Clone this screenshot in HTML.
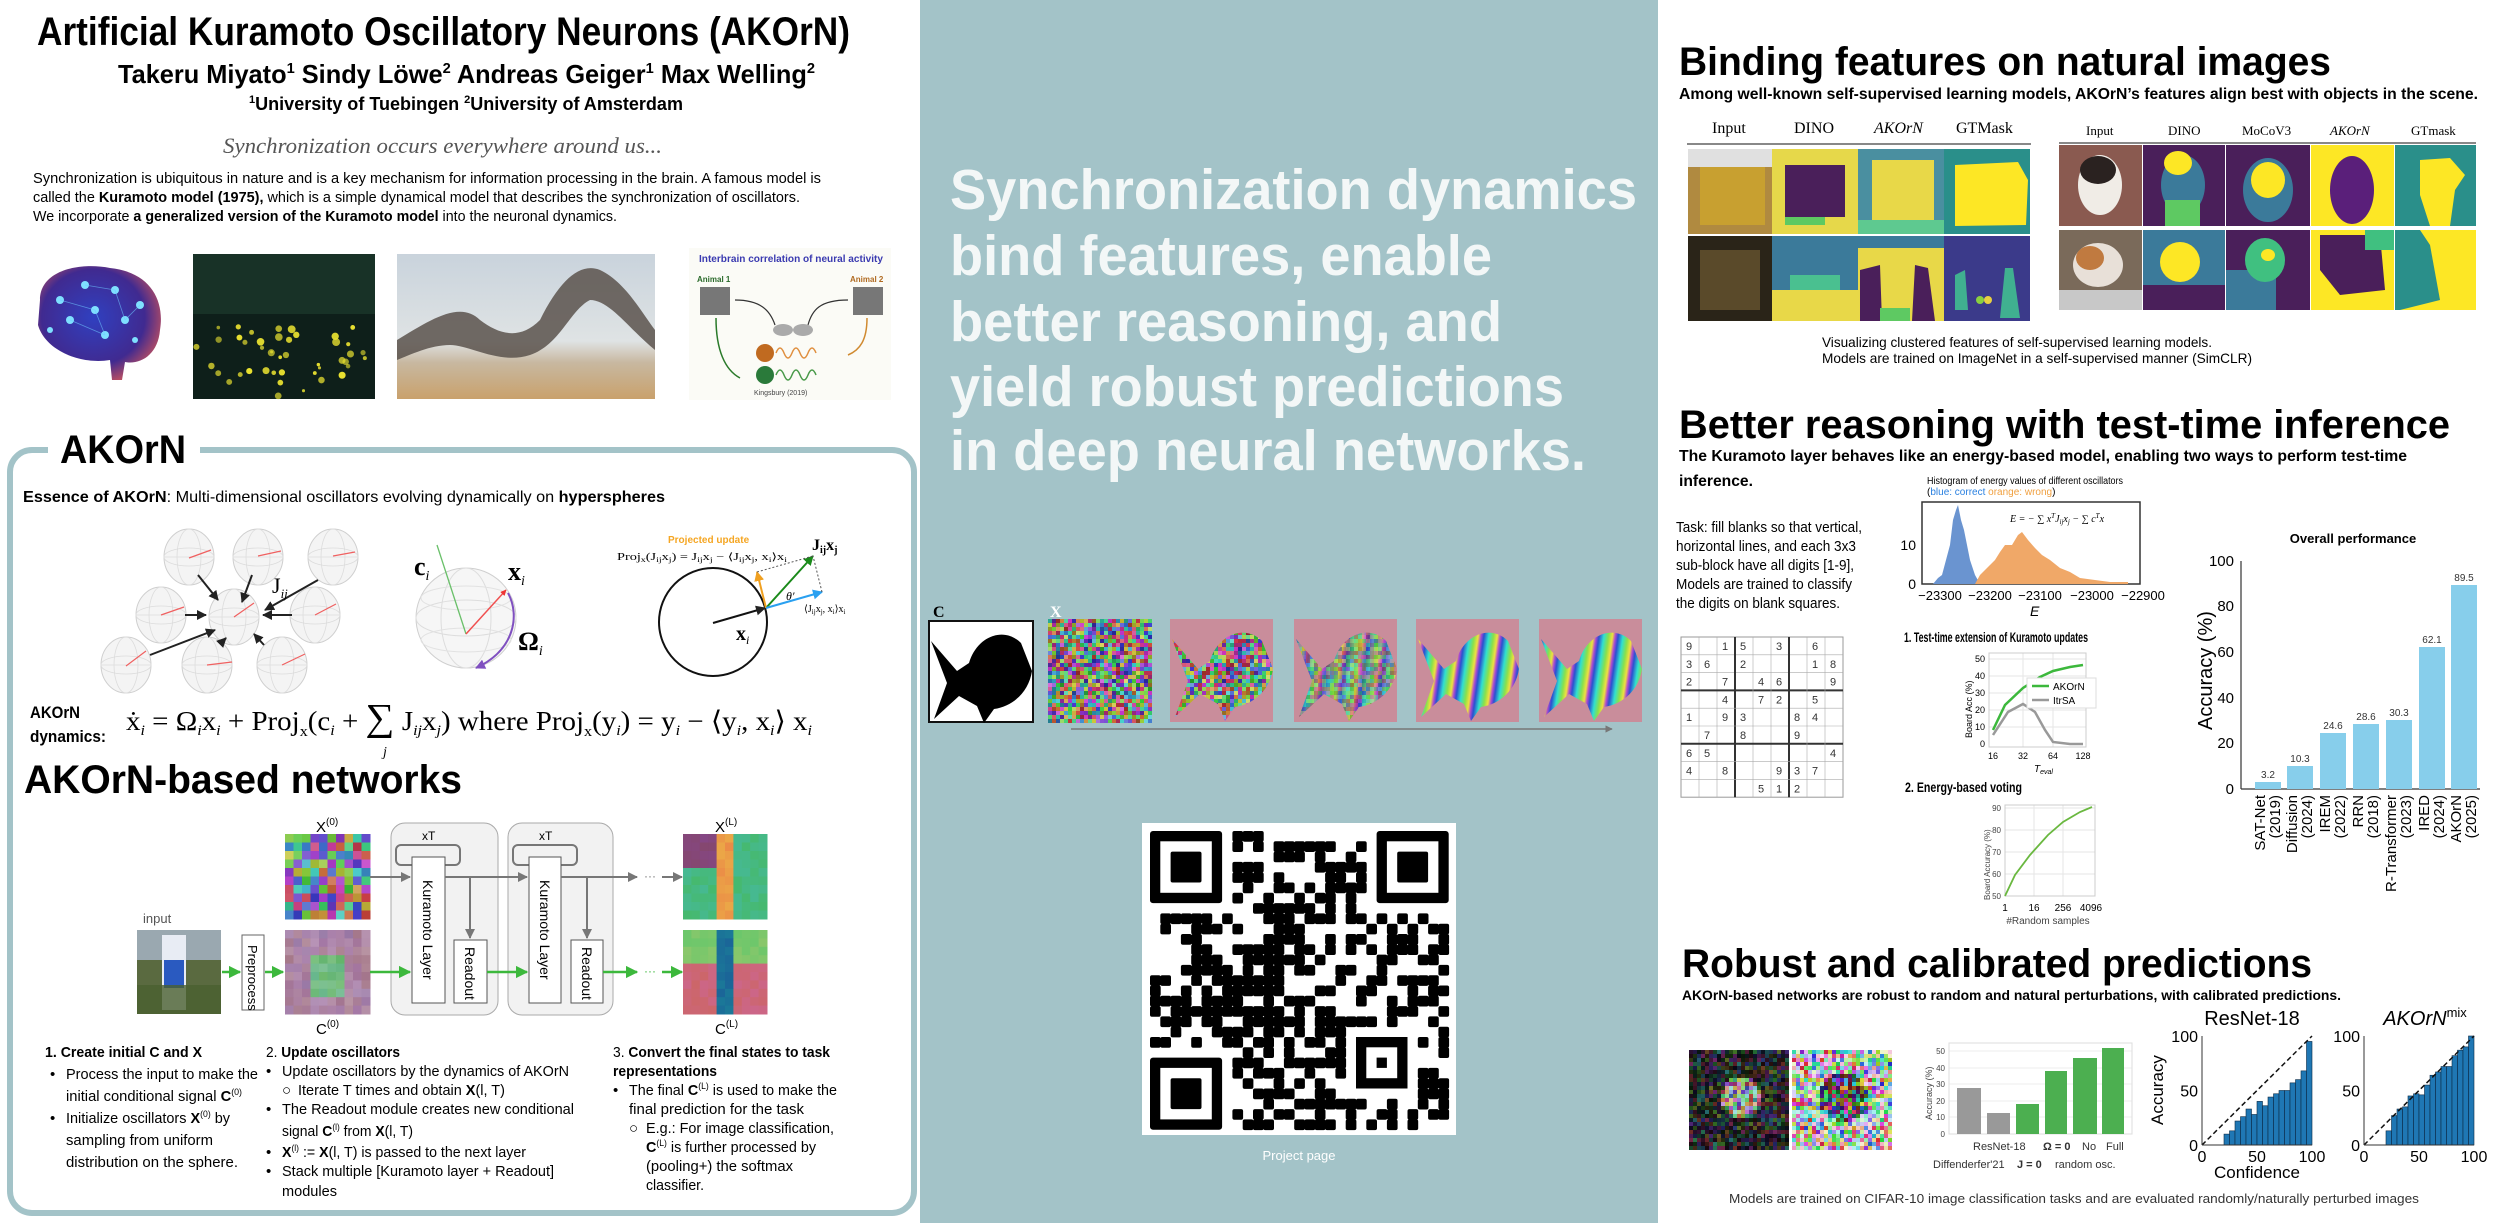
<!DOCTYPE html>
<html><head><meta charset="utf-8">
<style>
html,body{margin:0;padding:0;background:#fff;}
svg{display:block;}
text{font-family:"Liberation Sans",sans-serif;}
.s{font-family:"Liberation Serif",serif;}
</style></head>
<body>
<svg id="P" width="2500" height="1223" viewBox="0 0 2500 1223" xmlns="http://www.w3.org/2000/svg">
<defs>
<clipPath id="fc2"><path transform="translate(1170,619)" d="M2,20 L28,50 L40,42 C48,15 75,5 92,22 L103,50 C100,70 85,85 65,88 L55,102 L48,85 L30,75 L5,98 L18,62 Z"/></clipPath>
<clipPath id="fc3"><path transform="translate(1294,619)" d="M2,20 L28,50 L40,42 C48,15 75,5 92,22 L103,50 C100,70 85,85 65,88 L55,102 L48,85 L30,75 L5,98 L18,62 Z"/></clipPath>
<clipPath id="fc4"><path transform="translate(1416,619)" d="M2,20 L28,50 L40,42 C48,15 75,5 92,22 L103,50 C100,70 85,85 65,88 L55,102 L48,85 L30,75 L5,98 L18,62 Z"/></clipPath>
<clipPath id="fc5"><path transform="translate(1539,619)" d="M2,20 L28,50 L40,42 C48,15 75,5 92,22 L103,50 C100,70 85,85 65,88 L55,102 L48,85 L30,75 L5,98 L18,62 Z"/></clipPath>
<linearGradient id="stripe" x1="0" x2="1" y1="0" y2="0">
<stop offset="0" stop-color="#2a4fd0"/><stop offset="0.25" stop-color="#30e0d0"/><stop offset="0.5" stop-color="#8ae04a"/><stop offset="0.7" stop-color="#f0e040"/><stop offset="0.85" stop-color="#b04ad0"/><stop offset="1" stop-color="#2a4fd0"/>
</linearGradient>
<pattern id="stp" width="19" height="40" patternUnits="userSpaceOnUse" patternTransform="rotate(8)"><rect width="19" height="40" fill="url(#stripe)"/></pattern>
<linearGradient id="sky" x1="0" x2="0" y1="0" y2="1"><stop offset="0" stop-color="#c9d3dc"/><stop offset="0.6" stop-color="#dfe3e4"/><stop offset="0.75" stop-color="#c8b8a0"/><stop offset="1" stop-color="#c9a16c"/></linearGradient>
<radialGradient id="brain" cx="0.45" cy="0.45" r="0.6"><stop offset="0" stop-color="#3040c0"/><stop offset="0.7" stop-color="#402a90"/><stop offset="1" stop-color="#c05060"/></radialGradient>
<marker id="ah" viewBox="0 0 10 10" refX="9" refY="5" markerWidth="5" markerHeight="5" orient="auto"><path d="M0,0 L10,5 L0,10 z" fill="#222"/></marker>
<marker id="ahg" viewBox="0 0 10 10" refX="9" refY="5" markerWidth="5" markerHeight="5" orient="auto"><path d="M0,0 L10,5 L0,10 z" fill="#3cb83c"/></marker>
<marker id="ahy" viewBox="0 0 10 10" refX="9" refY="5" markerWidth="5" markerHeight="5" orient="auto"><path d="M0,0 L10,5 L0,10 z" fill="#777"/></marker>
<marker id="ahr" viewBox="0 0 10 10" refX="9" refY="5" markerWidth="4" markerHeight="4" orient="auto"><path d="M0,0 L10,5 L0,10 z" fill="#e33"/></marker>
<marker id="ahgr" viewBox="0 0 10 10" refX="9" refY="5" markerWidth="5" markerHeight="5" orient="auto"><path d="M0,0 L10,5 L0,10 z" fill="#1a8a1a"/></marker>
<marker id="aho" viewBox="0 0 10 10" refX="9" refY="5" markerWidth="5" markerHeight="5" orient="auto"><path d="M0,0 L10,5 L0,10 z" fill="#f0a020"/></marker>
<marker id="ahb" viewBox="0 0 10 10" refX="9" refY="5" markerWidth="5" markerHeight="5" orient="auto"><path d="M0,0 L10,5 L0,10 z" fill="#2aa0f0"/></marker>
<marker id="ahp" viewBox="0 0 10 10" refX="9" refY="5" markerWidth="5" markerHeight="5" orient="auto"><path d="M0,0 L10,5 L0,10 z" fill="#8050c0"/></marker>
<g id="sph">
<ellipse cx="0" cy="0" rx="25" ry="28" fill="#f4f4f4" stroke="#cfcfcf" stroke-width="1"/>
<ellipse cx="0" cy="0" rx="12" ry="28" fill="none" stroke="#dcdcdc" stroke-width="0.8"/>
<ellipse cx="0" cy="0" rx="25" ry="9" fill="none" stroke="#dcdcdc" stroke-width="0.8"/>
<line x1="-25" y1="0" x2="25" y2="0" stroke="#dcdcdc" stroke-width="0.8"/>
</g>
</defs>

<!-- backgrounds -->
<rect x="0" y="0" width="2500" height="1223" fill="#fff"/>
<rect x="920" y="0" width="738" height="1223" fill="#a3c3c8"/>

<!-- ===== LEFT PANEL ===== -->
<text x="37" y="45" font-size="40" font-weight="bold" textLength="813" lengthAdjust="spacingAndGlyphs">Artificial Kuramoto Oscillatory Neurons (AKOrN)</text>
<text x="118" y="83" font-size="26" font-weight="bold" textLength="697" lengthAdjust="spacingAndGlyphs">Takeru Miyato<tspan font-size="15" dy="-10">1</tspan><tspan dy="10">   Sindy Löwe</tspan><tspan font-size="15" dy="-10">2</tspan><tspan dy="10">   Andreas Geiger</tspan><tspan font-size="15" dy="-10">1</tspan><tspan dy="10">   Max Welling</tspan><tspan font-size="15" dy="-10">2</tspan></text>
<text x="249" y="110" font-size="18" font-weight="bold" textLength="434" lengthAdjust="spacingAndGlyphs"><tspan font-size="11" dy="-7">1</tspan><tspan dy="7">University of Tuebingen  </tspan><tspan font-size="11" dy="-7">2</tspan><tspan dy="7">University of Amsterdam</tspan></text>
<text x="223" y="153" font-size="22" font-style="italic" fill="#555" class="s" textLength="439" lengthAdjust="spacingAndGlyphs">Synchronization occurs everywhere around us...</text>
<text x="33" y="183" font-size="15" textLength="788" lengthAdjust="spacingAndGlyphs">Synchronization is ubiquitous in nature and is a key mechanism for information processing in the brain.  A famous model is</text>
<text x="33" y="202" font-size="15" textLength="767" lengthAdjust="spacingAndGlyphs">called the <tspan font-weight="bold">Kuramoto model (1975),</tspan> which is a simple dynamical model that describes the synchronization of oscillators.</text>
<text x="33" y="221" font-size="15" textLength="584" lengthAdjust="spacingAndGlyphs">We incorporate <tspan font-weight="bold">a generalized version of the Kuramoto model</tspan> into the neuronal dynamics.</text>

<!-- brain -->
<path d="M40,300 C40,270 80,262 110,268 C150,272 165,300 160,330 C158,355 140,365 125,362 L122,380 L112,380 L110,360 C80,365 45,350 38,325 Z" fill="url(#brain)"/>
<g fill="#7fe0ff"><circle cx="60" cy="300" r="4"/><circle cx="85" cy="285" r="4"/><circle cx="115" cy="290" r="4"/><circle cx="140" cy="305" r="4"/><circle cx="70" cy="320" r="4"/><circle cx="95" cy="310" r="4"/><circle cx="125" cy="320" r="4"/><circle cx="105" cy="335" r="4"/><circle cx="50" cy="330" r="3"/><circle cx="135" cy="340" r="3"/></g>
<g stroke="#6fc8ff" stroke-width="0.8" opacity="0.6"><line x1="60" y1="300" x2="95" y2="310"/><line x1="85" y1="285" x2="115" y2="290"/><line x1="115" y1="290" x2="125" y2="320"/><line x1="95" y1="310" x2="105" y2="335"/><line x1="70" y1="320" x2="105" y2="335"/><line x1="140" y1="305" x2="125" y2="320"/></g>
<!-- fireflies -->
<rect x="193" y="254" width="182" height="145" fill="#0e1f1a"/>
<rect x="193" y="254" width="182" height="60" fill="#1c3a2e" opacity="0.7"/>
<g id="ff" fill="#e8e030"></g>
<!-- birds -->
<rect x="397" y="254" width="258" height="145" fill="url(#sky)"/>
<path d="M397,340 C430,320 460,300 480,320 C500,335 520,340 540,320 C560,280 580,262 600,270 C625,282 640,310 655,330 L655,350 C630,330 610,300 590,300 C570,310 560,345 530,355 C500,365 470,345 450,345 C430,345 410,355 397,360 Z" fill="#5a524c" opacity="0.85"/>
<!-- interbrain -->
<rect x="689" y="248" width="202" height="152" fill="#fbfbf6"/>
<text x="699" y="262" font-size="10" font-weight="bold" fill="#3a3ab0" textLength="184" lengthAdjust="spacingAndGlyphs">Interbrain correlation of neural activity</text>
<text x="697" y="282" font-size="8" font-weight="bold" fill="#2a6a2a">Animal 1</text>
<text x="850" y="282" font-size="8" font-weight="bold" fill="#b06a20">Animal 2</text>
<rect x="700" y="287" width="30" height="28" fill="#777"/><rect x="853" y="287" width="30" height="28" fill="#777"/>
<path d="M735,300 C760,300 770,310 775,325" stroke="#333" fill="none" stroke-width="1.2"/><path d="M848,300 C820,300 812,310 808,325" stroke="#333" fill="none" stroke-width="1.2"/>
<ellipse cx="783" cy="330" rx="10" ry="6" fill="#aaa"/><ellipse cx="803" cy="330" rx="10" ry="6" fill="#aaa"/>
<path d="M716,318 C716,350 725,370 740,378" stroke="#2a7a2a" fill="none" stroke-width="1.5"/><path d="M867,318 C867,340 860,350 848,355" stroke="#d08a30" fill="none" stroke-width="1.5"/>
<circle cx="765" cy="353" r="9" fill="#c06a20"/><path d="M776,353 q4,-10 8,0 t8,0 t8,0 t8,0 t8,0" stroke="#e09040" fill="none" stroke-width="1.5"/>
<circle cx="765" cy="375" r="9" fill="#2a7a3a"/><path d="M776,375 q4,-10 8,0 t8,0 t8,0 t8,0 t8,0" stroke="#4a9a4a" fill="none" stroke-width="1.5"/>
<text x="754" y="395" font-size="7" fill="#444">Kingsbury (2019)</text>

<!-- AKOrN box -->
<rect x="10" y="450" width="904" height="763" rx="22" ry="22" fill="none" stroke="#a3c3c8" stroke-width="6"/>
<rect x="48" y="438" width="152" height="26" fill="#fff"/>
<text x="60" y="463" font-size="40" font-weight="bold" textLength="126" lengthAdjust="spacingAndGlyphs">AKOrN</text>
<text x="23" y="502" font-size="16" textLength="642" lengthAdjust="spacingAndGlyphs"><tspan font-weight="bold">Essence of AKOrN</tspan>: Multi-dimensional oscillators evolving dynamically on <tspan font-weight="bold">hyperspheres</tspan></text>

<!-- sphere cluster -->
<g>
<use href="#sph" x="189" y="557"/><use href="#sph" x="258" y="557"/><use href="#sph" x="333" y="557"/>
<use href="#sph" x="161" y="615"/><use href="#sph" x="234" y="617"/><use href="#sph" x="315" y="615"/>
<use href="#sph" x="126" y="665"/><use href="#sph" x="207" y="665"/><use href="#sph" x="282" y="665"/>
<g stroke="#f06060" stroke-width="1.2"><line x1="189" y1="558" x2="211" y2="550"/><line x1="258" y1="556" x2="281" y2="551"/><line x1="333" y1="556" x2="355" y2="552"/><line x1="161" y1="615" x2="184" y2="607"/><line x1="234" y1="617" x2="254" y2="603"/><line x1="315" y1="615" x2="336" y2="604"/><line x1="126" y1="666" x2="146" y2="651"/><line x1="207" y1="665" x2="232" y2="662"/><line x1="282" y1="665" x2="305" y2="654"/></g>
<g stroke="#222" stroke-width="2" fill="none" marker-end="url(#ah)"><line x1="198" y1="575" x2="218" y2="600"/><line x1="252" y1="575" x2="242" y2="602"/><line x1="318" y1="580" x2="265" y2="610"/><line x1="185" y1="615" x2="206" y2="615"/><line x1="292" y1="615" x2="263" y2="615"/><line x1="150" y1="655" x2="215" y2="630"/><line x1="264" y1="645" x2="254" y2="634"/><line x1="222" y1="642" x2="226" y2="638"/></g>
<text x="272" y="593" font-size="22" class="s">J<tspan font-size="13" dy="5" font-style="italic">ij</tspan></text>
</g>
<!-- single sphere -->
<g>
<ellipse cx="466" cy="618" rx="50" ry="50" fill="#f6f6f6" stroke="#cfcfcf"/>
<ellipse cx="466" cy="618" rx="25" ry="50" fill="none" stroke="#ddd"/><ellipse cx="466" cy="618" rx="50" ry="18" fill="none" stroke="#ddd"/><ellipse cx="466" cy="598" rx="45" ry="12" fill="none" stroke="#e2e2e2"/><ellipse cx="466" cy="640" rx="45" ry="12" fill="none" stroke="#e2e2e2"/>
<line x1="466" y1="634" x2="437" y2="545" stroke="#6ac06a" stroke-width="1.3"/>
<line x1="466" y1="634" x2="506" y2="590" stroke="#f05050" stroke-width="1.5" marker-end="url(#ahr)"/>
<path d="M508,593 C520,615 515,650 476,668" stroke="#8050c0" fill="none" stroke-width="2" marker-end="url(#ahp)"/>
<text x="414" y="575" font-size="26" class="s" font-weight="bold">c<tspan font-size="14" dy="5" font-style="italic" font-weight="normal">i</tspan></text>
<text x="508" y="580" font-size="26" class="s" font-weight="bold">x<tspan font-size="14" dy="5" font-style="italic" font-weight="normal">i</tspan></text>
<text x="518" y="650" font-size="26" class="s" font-weight="bold">Ω<tspan font-size="14" dy="5" font-style="italic" font-weight="normal">i</tspan></text>
</g>
<!-- projection diagram -->
<g>
<circle cx="713" cy="622" r="54" fill="none" stroke="#111" stroke-width="2"/>
<line x1="713" y1="623" x2="765" y2="608" stroke="#111" stroke-width="2" marker-end="url(#ah)"/>
<line x1="766" y1="608" x2="813" y2="556" stroke="#1a8a1a" stroke-width="2" marker-end="url(#ahgr)"/>
<line x1="766" y1="608" x2="757" y2="572" stroke="#f0a020" stroke-width="2" marker-end="url(#aho)"/>
<line x1="766" y1="608" x2="822" y2="592" stroke="#2aa0f0" stroke-width="2" marker-end="url(#ahb)"/>
<line x1="757" y1="572" x2="813" y2="556" stroke="#555" stroke-dasharray="2,2"/><line x1="822" y1="592" x2="813" y2="556" stroke="#555" stroke-dasharray="2,2"/>
<text x="668" y="543" font-size="10" font-weight="bold" fill="#f5a623">Projected update</text>
<text x="617" y="560" font-size="10" class="s" textLength="170" lengthAdjust="spacingAndGlyphs">Proj<tspan font-size="7" dy="2">x</tspan><tspan dy="-2">(J</tspan><tspan font-size="7" dy="2">ij</tspan><tspan dy="-2">x</tspan><tspan font-size="7" dy="2">j</tspan><tspan dy="-2">) = J</tspan><tspan font-size="7" dy="2">ij</tspan><tspan dy="-2">x</tspan><tspan font-size="7" dy="2">j</tspan><tspan dy="-2"> − ⟨J</tspan><tspan font-size="7" dy="2">ij</tspan><tspan dy="-2">x</tspan><tspan font-size="7" dy="2">j</tspan><tspan dy="-2">, x</tspan><tspan font-size="7" dy="2">i</tspan><tspan dy="-2">⟩x</tspan><tspan font-size="7" dy="2">i</tspan></text>
<text x="812" y="550" font-size="16" class="s" font-weight="bold">J<tspan font-size="10" dy="3">ij</tspan><tspan dy="-3">x</tspan><tspan font-size="10" dy="3">j</tspan></text>
<text x="804" y="612" font-size="10" class="s">⟨J<tspan font-size="7" dy="2">ij</tspan><tspan dy="-2">x</tspan><tspan font-size="7" dy="2">j</tspan><tspan dy="-2">, x</tspan><tspan font-size="7" dy="2">i</tspan><tspan dy="-2">⟩x</tspan><tspan font-size="7" dy="2">i</tspan></text>
<text x="786" y="600" font-size="12" class="s" font-style="italic">θ′</text>
<text x="736" y="640" font-size="20" class="s" font-weight="bold">x<tspan font-size="12" dy="4" font-style="italic" font-weight="normal">i</tspan></text>
</g>
<!-- dynamics equation -->
<text x="30" y="718" font-size="17" font-weight="bold" textLength="50" lengthAdjust="spacingAndGlyphs">AKOrN</text>
<text x="30" y="742" font-size="17" font-weight="bold" textLength="76" lengthAdjust="spacingAndGlyphs">dynamics:</text>
<text x="126" y="730" font-size="27" class="s" textLength="686" lengthAdjust="spacingAndGlyphs">ẋ<tspan font-size="15" dy="5" font-style="italic">i</tspan><tspan dy="-5"> = Ω</tspan><tspan font-size="15" dy="5" font-style="italic">i</tspan><tspan dy="-5">x</tspan><tspan font-size="15" dy="5" font-style="italic">i</tspan><tspan dy="-5"> + Proj</tspan><tspan font-size="15" dy="6">x</tspan><tspan dy="-6">(c</tspan><tspan font-size="15" dy="5" font-style="italic">i</tspan><tspan dy="-5"> + </tspan><tspan font-size="38">∑</tspan><tspan> J</tspan><tspan font-size="15" dy="5" font-style="italic">ij</tspan><tspan dy="-5">x</tspan><tspan font-size="15" dy="5" font-style="italic">j</tspan><tspan dy="-5">) where Proj</tspan><tspan font-size="15" dy="6">x</tspan><tspan dy="-6">(y</tspan><tspan font-size="15" dy="5" font-style="italic">i</tspan><tspan dy="-5">) = y</tspan><tspan font-size="15" dy="5" font-style="italic">i</tspan><tspan dy="-5"> − ⟨y</tspan><tspan font-size="15" dy="5" font-style="italic">i</tspan><tspan dy="-5">, x</tspan><tspan font-size="15" dy="5" font-style="italic">i</tspan><tspan dy="-5">⟩ x</tspan><tspan font-size="15" dy="5" font-style="italic">i</tspan></text>
<text x="383" y="756" font-size="14" class="s" font-style="italic">j</text>

<text x="24" y="793" font-size="40" font-weight="bold" textLength="438" lengthAdjust="spacingAndGlyphs">AKOrN-based networks</text>

<!-- network diagram -->
<g id="netimgs"></g>
<text x="316" y="832" font-size="15">X<tspan font-size="10" dy="-7">(0)</tspan></text>
<text x="316" y="1034" font-size="15">C<tspan font-size="10" dy="-7">(0)</tspan></text>
<text x="715" y="832" font-size="15">X<tspan font-size="10" dy="-7">(L)</tspan></text>
<text x="715" y="1034" font-size="15">C<tspan font-size="10" dy="-7">(L)</tspan></text>
<text x="143" y="923" font-size="13" fill="#555">input</text>
<rect x="137" y="930" width="84" height="84" fill="#5a6a40"/>
<rect x="137" y="930" width="84" height="30" fill="#9aa8b0"/>
<rect x="162" y="935" width="24" height="75" fill="#e8ecf4"/><rect x="164" y="960" width="20" height="28" fill="#2a5ac0"/>
<rect x="137" y="985" width="84" height="29" fill="#4a6030" opacity="0.8"/>
<rect x="242" y="935" width="22" height="75" fill="#fff" stroke="#666"/>
<text transform="translate(248,945) rotate(90)" font-size="13">Preprocess</text>
<rect x="391" y="823" width="107" height="192" rx="14" fill="#f2f2f2" stroke="#aaa"/>
<rect x="508" y="823" width="105" height="192" rx="14" fill="#f2f2f2" stroke="#aaa"/>
<text x="422" y="840" font-size="12">xT</text><text x="539" y="840" font-size="12">xT</text>
<rect x="396" y="845" width="64" height="20" rx="5" fill="none" stroke="#777" stroke-width="2"/>
<rect x="513" y="845" width="64" height="20" rx="5" fill="none" stroke="#777" stroke-width="2"/>
<rect x="412" y="857" width="33" height="146" fill="#fff" stroke="#555"/>
<rect x="529" y="857" width="32" height="146" fill="#fff" stroke="#555"/>
<rect x="454" y="940" width="33" height="63" fill="#fff" stroke="#555"/>
<rect x="571" y="940" width="32" height="63" fill="#fff" stroke="#555"/>
<text transform="translate(423,880) rotate(90)" font-size="14">Kuramoto Layer</text>
<text transform="translate(540,880) rotate(90)" font-size="14">Kuramoto Layer</text>
<text transform="translate(465,947) rotate(90)" font-size="14">Readout</text>
<text transform="translate(582,947) rotate(90)" font-size="14">Readout</text>
<g stroke="#777" stroke-width="2" fill="none">
<line x1="370" y1="877" x2="410" y2="877" marker-end="url(#ahy)"/>
<line x1="445" y1="877" x2="527" y2="877" marker-end="url(#ahy)"/>
<line x1="561" y1="877" x2="637" y2="877" marker-end="url(#ahy)"/>
<line x1="662" y1="877" x2="682" y2="877" marker-end="url(#ahy)"/>
<line x1="470" y1="877" x2="470" y2="938" marker-end="url(#ahy)"/>
<line x1="587" y1="877" x2="587" y2="938" marker-end="url(#ahy)"/>
</g>
<text x="644" y="880" font-size="12" fill="#777">···</text>
<g stroke="#3cb83c" stroke-width="2.5" fill="none">
<line x1="222" y1="972" x2="240" y2="972" marker-end="url(#ahg)"/>
<line x1="265" y1="972" x2="283" y2="972" marker-end="url(#ahg)"/>
<line x1="370" y1="972" x2="410" y2="972" marker-end="url(#ahg)"/>
<line x1="487" y1="972" x2="527" y2="972" marker-end="url(#ahg)"/>
<line x1="603" y1="972" x2="637" y2="972" marker-end="url(#ahg)"/>
<line x1="662" y1="972" x2="682" y2="972" marker-end="url(#ahg)"/>
</g>
<text x="644" y="975" font-size="12" fill="#3cb83c">···</text>

<!-- bullets -->
<g font-size="15">
<text x="45" y="1057" font-weight="bold" textLength="157" lengthAdjust="spacingAndGlyphs">1.  Create initial C and X</text>
<text x="50" y="1079">•</text><text x="66" y="1079" textLength="192" lengthAdjust="spacingAndGlyphs">Process the input to make the</text>
<text x="66" y="1101" textLength="176" lengthAdjust="spacingAndGlyphs">initial conditional signal <tspan font-weight="bold">C</tspan><tspan font-size="9" dy="-6">(0)</tspan></text>
<text x="50" y="1123">•</text><text x="66" y="1123" textLength="164" lengthAdjust="spacingAndGlyphs">Initialize oscillators <tspan font-weight="bold">X</tspan><tspan font-size="9" dy="-6">(0)</tspan><tspan dy="6"> by</tspan></text>
<text x="66" y="1145" textLength="147" lengthAdjust="spacingAndGlyphs">sampling from uniform</text>
<text x="66" y="1167" textLength="172" lengthAdjust="spacingAndGlyphs">distribution on the sphere.</text>

<text x="266" y="1057" textLength="134" lengthAdjust="spacingAndGlyphs">2. <tspan font-weight="bold">Update oscillators</tspan></text>
<text x="266" y="1076">•</text><text x="282" y="1076" textLength="287" lengthAdjust="spacingAndGlyphs">Update oscillators by the dynamics of AKOrN</text>
<text x="282" y="1095">○</text><text x="298" y="1095" textLength="207" lengthAdjust="spacingAndGlyphs">Iterate T times and obtain <tspan font-weight="bold">X</tspan>(l, T)</text>
<text x="266" y="1114">•</text><text x="282" y="1114" textLength="292" lengthAdjust="spacingAndGlyphs">The Readout module creates new conditional</text>
<text x="282" y="1136" textLength="131" lengthAdjust="spacingAndGlyphs">signal <tspan font-weight="bold">C</tspan><tspan font-size="9" dy="-6">(l)</tspan><tspan dy="6"> from </tspan><tspan font-weight="bold">X</tspan>(l, T)</text>
<text x="266" y="1157">•</text><text x="282" y="1157" textLength="244" lengthAdjust="spacingAndGlyphs"><tspan font-weight="bold">X</tspan><tspan font-size="9" dy="-6">(l)</tspan><tspan dy="6"> := </tspan><tspan font-weight="bold">X</tspan>(l, T) is passed to the next layer</text>
<text x="266" y="1176">•</text><text x="282" y="1176" textLength="272" lengthAdjust="spacingAndGlyphs">Stack multiple [Kuramoto layer + Readout]</text>
<text x="282" y="1196" textLength="55" lengthAdjust="spacingAndGlyphs">modules</text>

<text x="613" y="1057" textLength="217" lengthAdjust="spacingAndGlyphs">3. <tspan font-weight="bold">Convert the final states to task</tspan></text>
<text x="613" y="1076" font-weight="bold" textLength="104" lengthAdjust="spacingAndGlyphs">representations</text>
<text x="613" y="1095">•</text><text x="629" y="1095" textLength="208" lengthAdjust="spacingAndGlyphs">The final <tspan font-weight="bold">C</tspan><tspan font-size="9" dy="-6">(L)</tspan><tspan dy="6"> is used to make the</tspan></text>
<text x="629" y="1114" textLength="175" lengthAdjust="spacingAndGlyphs">final prediction for the task</text>
<text x="629" y="1133">○</text><text x="646" y="1133" textLength="188" lengthAdjust="spacingAndGlyphs">E.g.:  For image classification,</text>
<text x="646" y="1152" textLength="170" lengthAdjust="spacingAndGlyphs"><tspan font-weight="bold">C</tspan><tspan font-size="9" dy="-6">(L)</tspan><tspan dy="6"> is further processed by</tspan></text>
<text x="646" y="1171" textLength="147" lengthAdjust="spacingAndGlyphs">(pooling+) the softmax</text>
<text x="646" y="1190" textLength="58" lengthAdjust="spacingAndGlyphs">classifier.</text>
</g>

<!-- ===== MIDDLE PANEL ===== -->
<g fill="#f3f7f7" font-weight="bold" font-size="57">
<text x="950" y="209" textLength="687" lengthAdjust="spacingAndGlyphs">Synchronization dynamics</text>
<text x="950" y="275" textLength="542" lengthAdjust="spacingAndGlyphs">bind features, enable</text>
<text x="950" y="341" textLength="552" lengthAdjust="spacingAndGlyphs">better reasoning, and</text>
<text x="950" y="406" textLength="614" lengthAdjust="spacingAndGlyphs">yield robust predictions</text>
<text x="950" y="470" textLength="636" lengthAdjust="spacingAndGlyphs">in deep neural networks.</text>
</g>
<text x="933" y="617" font-size="16" class="s" font-weight="bold">C</text>
<text x="1050" y="617" font-size="16" class="s" font-weight="bold" fill="#fff">X</text>
<rect x="929" y="621" width="104" height="101" fill="#fff" stroke="#111" stroke-width="2"/>
<path transform="translate(929,621)" d="M2,20 L28,50 L40,42 C48,15 75,5 92,22 L103,50 C100,70 85,85 65,88 L55,102 L48,85 L30,75 L5,98 L18,62 Z" fill="#000"/>
<g id="fish"></g>
<rect x="1416" y="619" width="103" height="103" fill="#c98d9b"/>
<rect x="1416" y="619" width="103" height="103" fill="url(#stp)" clip-path="url(#fc4)"/>
<rect x="1539" y="619" width="103" height="103" fill="#c98d9b"/>
<rect x="1539" y="619" width="103" height="103" fill="url(#stp)" clip-path="url(#fc5)"/>
<line x1="1071" y1="729" x2="1612" y2="729" stroke="#777" stroke-width="1.5" marker-end="url(#ahy)"/>
<rect x="1142" y="823" width="314" height="312" fill="#fff"/>
<g id="qr"></g>
<text x="1299" y="1160" font-size="13" fill="#fff" text-anchor="middle">Project page</text>

<!-- ===== RIGHT PANEL ===== -->
<text x="1679" y="75" font-size="40" font-weight="bold" textLength="652" lengthAdjust="spacingAndGlyphs">Binding features on natural images</text>
<text x="1679" y="99" font-size="16" font-weight="bold" textLength="799" lengthAdjust="spacingAndGlyphs">Among well-known self-supervised learning models, AKOrN’s features align best with objects in the scene.</text>
<g class="s" font-size="16">
<text x="1712" y="133" class="s">Input</text><text x="1794" y="133" class="s">DINO</text><text x="1874" y="133" class="s" font-style="italic">AKOrN</text><text x="1956" y="133" class="s">GTMask</text>
</g>
<line x1="1687" y1="144" x2="2031" y2="144" stroke="#888" stroke-width="2"/>
<g class="s" font-size="13">
<text x="2086" y="135" class="s">Input</text><text x="2168" y="135" class="s">DINO</text><text x="2242" y="135" class="s">MoCoV3</text><text x="2330" y="135" class="s" font-style="italic">AKOrN</text><text x="2411" y="135" class="s">GTmask</text>
</g>
<line x1="2059" y1="143" x2="2476" y2="143" stroke="#888" stroke-width="2"/>
<!-- left grid -->
<rect x="1688" y="149" width="84" height="85" fill="#b08a40"/><rect x="1700" y="160" width="65" height="65" fill="#c8a030"/><rect x="1688" y="149" width="84" height="18" fill="#e0e0e0"/>
<rect x="1772" y="149" width="86" height="85" fill="#e6d84a"/><rect x="1785" y="165" width="60" height="52" fill="#4a1f5a"/><rect x="1785" y="217" width="40" height="8" fill="#5ec962"/>
<rect x="1858" y="149" width="86" height="85" fill="#4a8fa0"/><rect x="1872" y="160" width="62" height="60" fill="#e8d848"/><rect x="1858" y="220" width="86" height="14" fill="#5ec990"/>
<rect x="1944" y="149" width="86" height="85" fill="#2a8f8a"/><path d="M1955,165 L2018,162 L2028,180 L2026,225 L1955,226 Z" fill="#fde725"/>
<rect x="1688" y="236" width="84" height="85" fill="#2a2418"/><rect x="1700" y="250" width="60" height="60" fill="#5a4a2a"/>
<rect x="1772" y="236" width="86" height="85" fill="#3b7a9a"/><rect x="1772" y="290" width="86" height="31" fill="#e8d848"/><rect x="1790" y="275" width="50" height="15" fill="#4ac090"/>
<rect x="1858" y="236" width="86" height="85" fill="#e8d848"/><rect x="1858" y="236" width="86" height="12" fill="#3b7a9a"/><path d="M1860,270 L1880,265 L1882,321 L1860,321 Z M1915,265 L1928,268 L1935,321 L1912,321 Z" fill="#4a1f5a"/><rect x="1880" y="308" width="30" height="13" fill="#5ec962"/>
<rect x="1944" y="236" width="86" height="85" fill="#3b3a8a"/><path d="M1955,275 L1965,270 L1968,310 L1955,310 Z M2005,268 L2013,268 L2020,318 L2000,318 Z" fill="#40b090"/><circle cx="1980" cy="300" r="4" fill="#8ad040"/><circle cx="1988" cy="300" r="4" fill="#e8d040"/>
<!-- right grid -->
<rect x="2059" y="145" width="83" height="81" fill="#8a5a50"/><ellipse cx="2100" cy="185" rx="22" ry="30" fill="#f0ece6"/><ellipse cx="2098" cy="170" rx="18" ry="14" fill="#2a2220"/>
<rect x="2143" y="145" width="82" height="81" fill="#4a1f5a"/><ellipse cx="2183" cy="185" rx="22" ry="30" fill="#3b7a9a"/><ellipse cx="2178" cy="163" rx="14" ry="12" fill="#fde725"/><rect x="2165" y="200" width="35" height="26" fill="#5ec962"/>
<rect x="2226" y="145" width="84" height="81" fill="#4a1f5a"/><ellipse cx="2268" cy="190" rx="25" ry="32" fill="#3b7a9a"/><ellipse cx="2268" cy="180" rx="17" ry="18" fill="#fde725"/>
<rect x="2311" y="145" width="83" height="81" fill="#fde725"/><ellipse cx="2352" cy="190" rx="22" ry="34" fill="#5a1f7a"/>
<rect x="2395" y="145" width="81" height="81" fill="#2a8f8a"/><path d="M2420,160 L2450,158 L2465,175 L2455,190 L2450,226 L2430,226 L2420,195 Z" fill="#fde725"/>
<rect x="2059" y="230" width="83" height="80" fill="#7a6a5a"/><ellipse cx="2098" cy="265" rx="25" ry="22" fill="#e8e0d8"/><ellipse cx="2090" cy="258" rx="14" ry="12" fill="#c07a40"/><rect x="2059" y="290" width="83" height="20" fill="#c8c8c8"/>
<rect x="2143" y="230" width="82" height="80" fill="#3b7a9a"/><rect x="2143" y="285" width="82" height="25" fill="#4a1f5a"/><ellipse cx="2180" cy="262" rx="20" ry="20" fill="#fde725"/>
<rect x="2226" y="230" width="84" height="80" fill="#4a1f5a"/><rect x="2226" y="270" width="50" height="40" fill="#3b7a9a"/><ellipse cx="2265" cy="260" rx="20" ry="22" fill="#40c080"/><ellipse cx="2268" cy="255" rx="7" ry="6" fill="#fde725"/>
<rect x="2311" y="230" width="83" height="80" fill="#fde725"/><path d="M2320,235 L2380,235 L2385,290 L2340,295 L2320,270 Z" fill="#4a1f5a"/><rect x="2365" y="230" width="29" height="20" fill="#40c080"/>
<rect x="2395" y="230" width="81" height="80" fill="#fde725"/><path d="M2395,230 L2420,230 L2430,245 L2440,300 L2400,310 L2395,310 Z" fill="#2a8f8a"/>
<text x="1822" y="347" font-size="14" textLength="390" lengthAdjust="spacingAndGlyphs">Visualizing clustered features of self-supervised learning models.</text>
<text x="1822" y="363" font-size="14" textLength="430" lengthAdjust="spacingAndGlyphs">Models are trained on ImageNet in a self-supervised manner (SimCLR)</text>

<text x="1679" y="438" font-size="40" font-weight="bold" textLength="771" lengthAdjust="spacingAndGlyphs">Better reasoning with test-time inference</text>
<text x="1679" y="461" font-size="16" font-weight="bold" textLength="728" lengthAdjust="spacingAndGlyphs">The Kuramoto layer behaves like an energy-based model, enabling two ways to perform test-time</text>
<text x="1679" y="486" font-size="16" font-weight="bold" textLength="74" lengthAdjust="spacingAndGlyphs">inference.</text>
<g font-size="15">
<text x="1676" y="532" textLength="186" lengthAdjust="spacingAndGlyphs">Task: fill blanks so that vertical,</text>
<text x="1676" y="551" textLength="180" lengthAdjust="spacingAndGlyphs">horizontal lines, and each 3x3</text>
<text x="1676" y="570" textLength="178" lengthAdjust="spacingAndGlyphs">sub-block have all digits [1-9],</text>
<text x="1676" y="589" textLength="176" lengthAdjust="spacingAndGlyphs">Models are trained to classify</text>
<text x="1676" y="608" textLength="164" lengthAdjust="spacingAndGlyphs">the digits on blank squares.</text>
</g>
<g id="sudoku"></g>
<!-- histogram -->
<text x="1927" y="484" font-size="10" textLength="196" lengthAdjust="spacingAndGlyphs">Histogram of energy values of different oscillators</text>
<text x="1927" y="495" font-size="10">(<tspan fill="#2a80e0">blue: correct</tspan>  <tspan fill="#f0a040">orange: wrong</tspan>)</text>
<rect x="1922" y="502" width="218" height="82" fill="#fff" stroke="#333" stroke-width="1.5"/>
<path d="M1933,584 L1938,578 L1942,575 L1946,560 L1950,545 L1953,520 L1956,510 L1958,505 L1961,520 L1964,530 L1966,540 L1970,560 L1975,575 L1980,584 Z" fill="#6a94d0"/>
<path d="M1975,584 L1980,575 L1990,565 L1995,560 L2000,552 L2005,545 L2012,545 L2018,535 L2022,532 L2028,540 L2035,548 L2042,555 L2050,560 L2060,568 L2070,572 L2080,578 L2095,580 L2110,582 L2128,582 L2128,584 Z" fill="#f0a868"/>
<text x="2010" y="522" font-size="10" class="s" font-style="italic">E = − ∑ x<tspan font-size="7" dy="-4">T</tspan><tspan dy="4">J</tspan><tspan font-size="7" dy="2">ij</tspan><tspan dy="-2">x</tspan><tspan font-size="7" dy="2">j</tspan><tspan dy="-2"> − ∑ c</tspan><tspan font-size="7" dy="-4">T</tspan><tspan dy="4">x</tspan></text>
<g font-size="13" text-anchor="middle"><text x="1940" y="600">−23300</text><text x="1990" y="600">−23200</text><text x="2040" y="600">−23100</text><text x="2092" y="600">−23000</text><text x="2143" y="600">−22900</text></g>
<text x="2030" y="616" font-size="14" font-style="italic">E</text>
<text x="1916" y="550" font-size="14" text-anchor="end">10</text><text x="1916" y="589" font-size="14" text-anchor="end">0</text>
<!-- line chart 1 -->
<text x="1904" y="642" font-size="14" font-weight="bold" textLength="184" lengthAdjust="spacingAndGlyphs">1.  Test-time extension of Kuramoto updates</text>
<g stroke="#e6e6e6" stroke-width="1"><line x1="1989" y1="659" x2="2086" y2="659"/><line x1="1989" y1="676" x2="2086" y2="676"/><line x1="1989" y1="693" x2="2086" y2="693"/><line x1="1989" y1="710" x2="2086" y2="710"/><line x1="1989" y1="727" x2="2086" y2="727"/><line x1="2023" y1="653" x2="2023" y2="747"/><line x1="2053" y1="653" x2="2053" y2="747"/></g>
<rect x="1989" y="653" width="97" height="94" fill="none" stroke="#ccc"/>
<polyline points="1993,730 2005,705 2023,688 2040,677 2053,671 2070,667 2083,665" fill="none" stroke="#3cb83c" stroke-width="2.5"/>
<polyline points="1993,735 2008,712 2023,704 2035,712 2045,730 2053,742 2070,744 2083,744" fill="none" stroke="#999" stroke-width="2.5"/>
<rect x="2027" y="678" width="69" height="30" fill="#fff" stroke="#ddd"/>
<line x1="2032" y1="686" x2="2049" y2="686" stroke="#3cb83c" stroke-width="2.5"/><text x="2053" y="690" font-size="10">AKOrN</text>
<line x1="2032" y1="700" x2="2049" y2="700" stroke="#999" stroke-width="2.5"/><text x="2053" y="704" font-size="10">ItrSA</text>
<g font-size="9" text-anchor="end"><text x="1985" y="662">50</text><text x="1985" y="679">40</text><text x="1985" y="696">30</text><text x="1985" y="713">20</text><text x="1985" y="730">10</text><text x="1985" y="747">0</text></g>
<g font-size="9" text-anchor="middle"><text x="1993" y="759">16</text><text x="2023" y="759">32</text><text x="2053" y="759">64</text><text x="2083" y="759">128</text></g>
<text x="2034" y="772" font-size="10" font-style="italic">T<tspan font-size="7" dy="2">eval</tspan></text>
<text transform="translate(1972,738) rotate(-90)" font-size="9">Board Acc (%)</text>
<!-- voting -->
<text x="1905" y="792" font-size="14" font-weight="bold" textLength="117" lengthAdjust="spacingAndGlyphs">2. Energy-based voting</text>
<g stroke="#e6e6e6"><line x1="2005" y1="808" x2="2095" y2="808"/><line x1="2005" y1="830" x2="2095" y2="830"/><line x1="2005" y1="852" x2="2095" y2="852"/><line x1="2005" y1="874" x2="2095" y2="874"/><line x1="2034" y1="805" x2="2034" y2="896"/><line x1="2063" y1="805" x2="2063" y2="896"/></g>
<rect x="2005" y="805" width="90" height="91" fill="none" stroke="#ccc"/>
<polyline points="2005,896 2015,875 2030,855 2048,835 2063,822 2080,812 2092,807" fill="none" stroke="#6ab840" stroke-width="1.8"/>
<g font-size="8" text-anchor="end" fill="#444"><text x="2001" y="811">90</text><text x="2001" y="833">80</text><text x="2001" y="855">70</text><text x="2001" y="877">60</text><text x="2001" y="899">50</text></g>
<g font-size="10" text-anchor="middle"><text x="2005" y="911">1</text><text x="2034" y="911">16</text><text x="2063" y="911">256</text><text x="2091" y="911">4096</text></g>
<text x="2048" y="924" font-size="10" text-anchor="middle" fill="#444">#Random samples</text>
<text transform="translate(1990,900) rotate(-90)" font-size="8" fill="#444">Board Accuracy (%)</text>
<!-- overall performance -->
<text x="2353" y="543" font-size="13" font-weight="bold" text-anchor="middle">Overall performance</text>
<line x1="2241" y1="561" x2="2241" y2="789" stroke="#333" stroke-width="1.2"/><line x1="2241" y1="789" x2="2480" y2="789" stroke="#333" stroke-width="1.2"/>
<g font-size="15" text-anchor="end"><text x="2234" y="794">0</text><text x="2234" y="748">20</text><text x="2234" y="703">40</text><text x="2234" y="657">60</text><text x="2234" y="611">80</text><text x="2234" y="566">100</text></g>
<text transform="translate(2212,730) rotate(-90)" font-size="20">Accuracy (%)</text>
<g fill="#87ceeb">
<rect x="2255" y="782" width="26" height="7"/><rect x="2287" y="766" width="26" height="23"/><rect x="2320" y="733" width="26" height="56"/><rect x="2353" y="724" width="26" height="65"/><rect x="2386" y="720" width="26" height="69"/><rect x="2419" y="647" width="26" height="142"/><rect x="2451" y="585" width="26" height="204"/>
</g>
<g font-size="10" text-anchor="middle" fill="#333"><text x="2268" y="778">3.2</text><text x="2300" y="762">10.3</text><text x="2333" y="729">24.6</text><text x="2366" y="720">28.6</text><text x="2399" y="716">30.3</text><text x="2432" y="643">62.1</text><text x="2464" y="581">89.5</text></g>
<g font-size="15" text-anchor="end">
<text transform="translate(2265,795) rotate(-90)">SAT-Net<tspan x="0" dy="15">(2019)</tspan></text>
<text transform="translate(2297,795) rotate(-90)">Diffusion<tspan x="0" dy="15">(2024)</tspan></text>
<text transform="translate(2330,795) rotate(-90)">IREM<tspan x="0" dy="15">(2022)</tspan></text>
<text transform="translate(2363,795) rotate(-90)">RRN<tspan x="0" dy="15">(2018)</tspan></text>
<text transform="translate(2396,795) rotate(-90)">R-Transformer<tspan x="0" dy="15">(2023)</tspan></text>
<text transform="translate(2429,795) rotate(-90)">IRED<tspan x="0" dy="15">(2024)</tspan></text>
<text transform="translate(2461,795) rotate(-90)">AKOrN<tspan x="0" dy="15">(2025)</tspan></text>
</g>

<!-- robust -->
<text x="1682" y="977" font-size="40" font-weight="bold" textLength="630" lengthAdjust="spacingAndGlyphs">Robust and calibrated predictions</text>
<text x="1682" y="1000" font-size="14" font-weight="bold" textLength="659" lengthAdjust="spacingAndGlyphs">AKOrN-based networks are robust to random and natural perturbations, with calibrated predictions.</text>
<g id="noisy"></g>
<!-- bar chart robust -->
<g stroke="#eee"><line x1="1949" y1="1051" x2="2132" y2="1051"/><line x1="1949" y1="1068" x2="2132" y2="1068"/><line x1="1949" y1="1084" x2="2132" y2="1084"/><line x1="1949" y1="1101" x2="2132" y2="1101"/><line x1="1949" y1="1117" x2="2132" y2="1117"/></g>
<rect x="1949" y="1043" width="183" height="91" fill="none" stroke="#ddd"/>
<g fill="#999"><rect x="1957" y="1088" width="24" height="46"/><rect x="1987" y="1113" width="23" height="21"/></g>
<g fill="#4caf50"><rect x="2016" y="1104" width="23" height="30"/><rect x="2045" y="1071" width="22" height="63"/><rect x="2073" y="1058" width="24" height="76"/><rect x="2102" y="1048" width="22" height="86"/></g>
<g font-size="8" text-anchor="end" fill="#444"><text x="1945" y="1054">50</text><text x="1945" y="1071">40</text><text x="1945" y="1087">30</text><text x="1945" y="1104">20</text><text x="1945" y="1120">10</text><text x="1945" y="1137">0</text></g>
<text transform="translate(1932,1120) rotate(-90)" font-size="9" fill="#444">Accuracy (%)</text>
<g font-size="11" fill="#333"><text x="1973" y="1150">ResNet-18</text><text x="2043" y="1150" font-weight="bold">Ω = 0</text><text x="2082" y="1150">No</text><text x="2106" y="1150">Full</text>
<text x="1933" y="1168">Diffenderfer'21</text><text x="2017" y="1168" font-weight="bold">J = 0</text><text x="2055" y="1168">random osc.</text></g>
<!-- calibration -->
<text x="2252" y="1025" font-size="20" text-anchor="middle">ResNet-18</text>
<text x="2425" y="1025" font-size="20" text-anchor="middle" font-style="italic">AKOrN<tspan font-size="13" dy="-8" font-style="normal">mix</tspan></text>
<g id="calib"></g>
<text transform="translate(2163,1125) rotate(-90)" font-size="17">Accuracy</text>
<text x="2257" y="1178" font-size="17" text-anchor="middle">Confidence</text>
<text x="1729" y="1203" font-size="13" fill="#333" textLength="690" lengthAdjust="spacingAndGlyphs">Models are trained on CIFAR-10 image classification tasks and are evaluated randomly/naturally perturbed images</text>
</svg>
<script>
(function(){
var NS="http://www.w3.org/2000/svg";
var s=12345;function r(){s=(s*1103515245+12345)%2147483648;return s/2147483648;}
function el(p,t,a){var e=document.createElementNS(NS,t);for(var k in a)e.setAttribute(k,a[k]);p.appendChild(e);return e;}
function hsl(h,sa,l){return "hsl("+h+","+sa+"%,"+l+"%)";}
// fireflies
var ff=document.getElementById("ff");
for(var i=0;i<45;i++){var y=320+r()*78;el(ff,"circle",{cx:195+r()*178,cy:y,r:1.5+r()*2.5,opacity:0.6+r()*0.4});}
// net images
var g=document.getElementById("netimgs");
function mosaic(x,y,w,h,nx,ny,f){var cw=w/nx,ch=h/ny;for(var j=0;j<ny;j++)for(var i=0;i<nx;i++)el(g,"rect",{x:x+i*cw,y:y+j*ch,width:cw+0.5,height:ch+0.5,fill:f(i,j)});}
mosaic(285,834,85,85,10,10,function(){return hsl(Math.floor(r()*360),55,45+r()*15);});
mosaic(285,930,85,84,10,10,function(i,j){if(i>=3&&i<=6&&j>=3&&j<=7)return hsl(120+r()*30,35,55+r()*8);return hsl(280+r()*60,20,55+r()*10);});
mosaic(683,834,84,85,10,10,function(i,j){if(i>=4&&i<=5)return hsl(25+r()*10,80,60);if(j<4&&i<4)return hsl(300+r()*20,30,40);return hsl(140+r()*20,45,50);});
mosaic(683,930,84,84,10,10,function(i,j){if(i>=4&&i<=5)return hsl(195+r()*10,70,35);if(j<4)return hsl(100+r()*20,45,60);return hsl(340+r()*20,50,60);});
// fish noise
var fg=document.getElementById("fish");
function noise(x0,y0,w,h,cp,pink){var grp=el(fg,"g",cp?{"clip-path":"url(#"+cp+")"}:{});
 var n=4;for(var y=0;y<h;y+=n)for(var x=0;x<w;x+=n){el(grp,"rect",{x:x0+x,y:y0+y,width:n,height:n,fill:hsl(Math.floor(r()*360),60,pink?45+r()*20:35+r()*30)});}}
el(fg,"rect",{x:1048,y:619,width:103,height:103,fill:"#8a9a80"});
noise(1048,619,103,103,null,false);
el(fg,"rect",{x:1170,y:619,width:103,height:103,fill:"#c98d9b"});noise(1170,619,103,103,"fc2",false);
el(fg,"rect",{x:1294,y:619,width:103,height:103,fill:"#c98d9b"});noise(1294,619,103,103,"fc3",false);
var st=el(fg,"rect",{x:1294,y:619,width:103,height:103,fill:"url(#stp)","clip-path":"url(#fc3)",opacity:0.45});
// QR
var q=document.getElementById("qr");var N=29,M=10.3,X0=1150,Y0=831;
function fin(cx,cy){el(q,"rect",{x:X0+cx*M,y:Y0+cy*M,width:7*M,height:7*M,fill:"#000",rx:3});el(q,"rect",{x:X0+(cx+1)*M,y:Y0+(cy+1)*M,width:5*M,height:5*M,fill:"#fff"});el(q,"rect",{x:X0+(cx+2)*M,y:Y0+(cy+2)*M,width:3*M,height:3*M,fill:"#000",rx:2});}
s=777;
for(var j=0;j<N;j++)for(var i=0;i<N;i++){
 if((i<8&&j<8)||(i>20&&j<8)||(i<8&&j>20))continue;
 if(i>=19&&i<=25&&j>=19&&j<=25)continue;
 if(r()<0.5)el(q,"rect",{x:X0+i*M,y:Y0+j*M,width:M+0.4,height:M+0.4,fill:"#000",rx:2});}
fin(0,0);fin(22,0);fin(0,22);
el(q,"rect",{x:X0+20*M,y:Y0+20*M,width:5*M,height:5*M,fill:"#000"});el(q,"rect",{x:X0+21*M,y:Y0+21*M,width:3*M,height:3*M,fill:"#fff"});el(q,"rect",{x:X0+22*M,y:Y0+22*M,width:M,height:M,fill:"#000"});
// sudoku
var sd=document.getElementById("sudoku");
var rows=["9_15_3_6_","36_2___18","2_7_46__9","__4_72_5_","1_93__84_","_7_8__9__","65______4","4_8__937_","____512__"];
var gx=1681,gy=637,cw=18,chh=17.8;
el(sd,"rect",{x:gx,y:gy,width:cw*9,height:chh*9,fill:"#fff",stroke:"#999"});
for(var k=1;k<9;k++){var th=(k%3==0)?2:0.6,c=(k%3==0)?"#333":"#aaa";
 el(sd,"line",{x1:gx+k*cw,y1:gy,x2:gx+k*cw,y2:gy+9*chh,stroke:c,"stroke-width":th});
 el(sd,"line",{x1:gx,y1:gy+k*chh,x2:gx+9*cw,y2:gy+k*chh,stroke:c,"stroke-width":th});}
for(var j=0;j<9;j++)for(var i=0;i<9;i++){var ch=rows[j][i];if(ch!="_"){var t=el(sd,"text",{x:gx+i*cw+5,y:gy+j*chh+13,"font-size":"11",fill:"#333"});t.textContent=ch;}}
// noisy CIFAR
var ng=document.getElementById("noisy");
for(var y=0;y<98;y+=4)for(var x=0;x<98;x+=4){
 var d=Math.hypot(x-50,y-45);el(ng,"rect",{x:1689+x,y:1050+y,width:4,height:4,fill:hsl(Math.floor(r()*360),50,d<20?35+r()*40:5+r()*25)});
 el(ng,"rect",{x:1792+x,y:1050+y,width:4,height:4,fill:hsl(Math.floor(r()*360),70,d<25?20+r()*40:45+r()*45)});}
// calibration
var cg=document.getElementById("calib");
function calib(x0,vals){var y0=1145,sx=1.1,sy=1.09;
 for(var i=0;i<vals.length;i++)el(cg,"rect",{x:x0+(20+i*5)*sx,y:y0-vals[i]*sy,width:5*sx,height:vals[i]*sy,fill:"#1f77b4",stroke:"#0b2a45","stroke-width":0.6});
 el(cg,"line",{x1:x0,y1:y0,x2:x0+110,y2:y0-109,stroke:"#111","stroke-dasharray":"5,3","stroke-width":1.5});
 el(cg,"line",{x1:x0,y1:y0-109,x2:x0,y2:y0,stroke:"#333"});el(cg,"line",{x1:x0,y1:y0,x2:x0+110,y2:y0,stroke:"#333"});
 var tl=[["0",0],["50",50],["100",100]];
 tl.forEach(function(p){var t=el(cg,"text",{x:x0-4,y:y0-p[1]*sy+6,"font-size":"16","text-anchor":"end"});t.textContent=p[0];
  var u=el(cg,"text",{x:x0+p[1]*sx,y:1162,"font-size":"16","text-anchor":"middle"});u.textContent=p[0];});}
calib(2202,[10,13,22,26,33,28,40,36,44,47,50,50,57,60,68,95]);
calib(2364,[13,27,33,35,45,47,46,55,64,67,72,72,82,87,90,100]);
})();
</script>
</body></html>
